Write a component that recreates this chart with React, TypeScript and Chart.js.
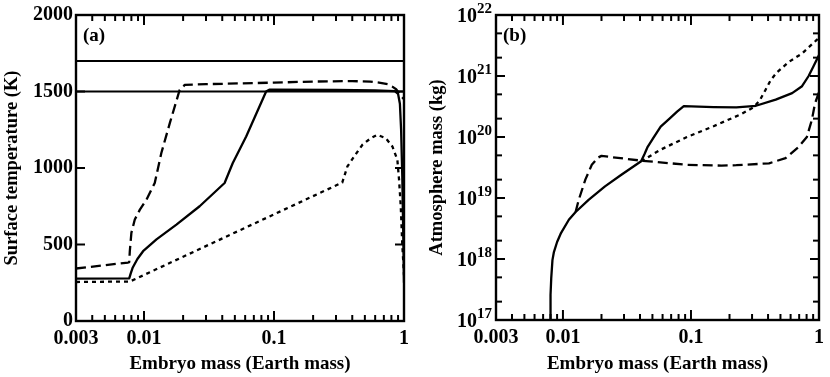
import React, { useEffect, useRef } from 'react';
import { Chart, registerables } from 'chart.js';
Chart.register(...registerables);

const FONT = '"Liberation Serif", "Times New Roman", serif';

// Axis ticks
const xTickValues = [0.003, 0.01, 0.1, 1];
const xTickLabels = ['0.003', '0.01', '0.1', '1'];
const xMajorTicks = [0.01, 0.1, 1];
const xMinorTicks = [0.004, 0.005, 0.006, 0.007, 0.008, 0.009, 0.02, 0.03, 0.04, 0.05, 0.06, 0.07, 0.08, 0.09, 0.2, 0.3, 0.4, 0.5, 0.6, 0.7, 0.8, 0.9];
const tempTicks = [0, 500, 1000, 1500, 2000];
const tempTickLabels = ['0', '500', '1000', '1500', '2000'];
const atmExponents = [17, 18, 19, 20, 21, 22];
const atmMinorMantissas = [2, 5];

// Panel (a): surface temperature (K)
const liquidusMass = [0.003, 1];
const liquidusK = [1700, 1700];
const solidusMass = [0.003, 1];
const solidusK = [1500, 1500];

const tSolidMass = [0.003, 0.0077, 0.0079, 0.0082, 0.0089, 0.00984, 0.01248, 0.01776, 0.0268, 0.0417, 0.0482, 0.0611, 0.087, 0.092, 0.3, 0.6, 0.85, 0.9, 0.93, 0.95, 0.97, 0.99, 1.0];
const tSolidK = [277, 279, 310, 350, 405, 456, 533, 630, 750, 902, 1033, 1206, 1500, 1512, 1510, 1507, 1502, 1485, 1420, 1250, 950, 500, 250];

const tDashMass = [0.003, 0.00755, 0.0077, 0.00778, 0.008, 0.0085, 0.0093, 0.01045, 0.0121, 0.0136, 0.0158, 0.0188, 0.0206, 0.03, 0.1, 0.2, 0.4, 0.55, 0.642, 0.75, 0.813, 0.87, 0.916, 0.95, 1.0];
const tDashK = [343, 382, 385, 456, 576, 663, 728, 793, 902, 1098, 1293, 1510, 1543, 1548, 1558, 1565, 1568, 1565, 1558, 1548, 1532, 1515, 1489, 1470, 1450];

const tDotMass = [0.003, 0.0078, 0.335, 0.367, 0.414, 0.479, 0.556, 0.624, 0.724, 0.814, 0.889, 0.916, 0.944, 0.97, 1.0];
const tDotK = [255, 258, 905, 1010, 1076, 1152, 1195, 1217, 1195, 1141, 1054, 924, 750, 500, 300];

// Panel (b): atmosphere mass (kg)
const aSolidMass = [0.00796, 0.00798, 0.00802, 0.0081, 0.00828, 0.0085, 0.0090, 0.0096, 0.01112, 0.01256, 0.01586, 0.0213, 0.0286, 0.0408, 0.0433, 0.0459, 0.051, 0.058, 0.068, 0.0779, 0.0879, 0.15, 0.2259, 0.3219, 0.459, 0.617, 0.737, 0.83, 0.9, 1.0];
const aSolidKg = [1e17, 1.6e17, 2.6e17, 4.8e17, 9.6e17, 1.3e18, 1.9e18, 2.6e18, 4.4e18, 5.9e18, 9.3e18, 1.55e19, 2.4e19, 4.0e19, 5.2e19, 6.9e19, 9.8e19, 1.48e20, 2.0e20, 2.6e20, 3.2e20, 3.1e20, 3.05e20, 3.25e20, 4.1e20, 5.25e20, 6.8e20, 1.0e21, 1.4e21, 2.2e21];

const aDashMass = [0.01256, 0.01328, 0.01496, 0.0168, 0.0188, 0.02, 0.0408, 0.093, 0.173, 0.226, 0.407, 0.548, 0.694, 0.804, 0.879, 0.93, 1.0];
const aDashKg = [5.9e18, 9.3e18, 2.0e19, 3.5e19, 4.6e19, 4.9e19, 4.1e19, 3.5e19, 3.4e19, 3.45e19, 3.7e19, 4.5e19, 6.9e19, 1.0e20, 1.9e20, 3.5e20, 5.5e20];

const aDotMass = [0.0408, 0.058, 0.093, 0.15, 0.25, 0.31, 0.345, 0.38, 0.42, 0.47, 0.581, 0.737, 0.96, 1.0];
const aDotKg = [4.0e19, 6.2e19, 1.0e20, 1.5e20, 2.4e20, 3.1e20, 4.0e20, 5.8e20, 8.6e20, 1.15e21, 1.7e21, 2.34e21, 3.9e21, 4.2e21];

const pts = (xs: number[], ys: number[]) => xs.map((x, i) => ({ x, y: ys[i] }));

const SOLID: number[] = [];
const DASH = [10, 5];
const DOT = [4, 4];

function ds(xs: number[], ys: number[], dash: number[], width = 2.3) {
  return {
    data: pts(xs, ys),
    showLine: true,
    borderColor: '#000',
    backgroundColor: '#000',
    borderWidth: width,
    borderDash: dash,
    borderJoinStyle: 'round',
    pointRadius: 0,
    tension: 0,
    fill: false,
  };
}

type FrameCfg = {
  panel: string;
  yMajor: number[];
  yMinor: number[];
  powerLabels?: number[];
};

function makeFrameTicks(cfg: FrameCfg) {
  return {
    id: 'frameTicks',
    afterDraw(chart: any) {
      const ctx = chart.ctx;
      const a = chart.chartArea;
      const xs = chart.scales.x;
      const ys = chart.scales.y;
      ctx.save();
      ctx.strokeStyle = '#000';
      ctx.lineCap = 'butt';
      ctx.setLineDash([]);
      const line = (x1: number, y1: number, x2: number, y2: number) => {
        ctx.beginPath();
        ctx.moveTo(x1, y1);
        ctx.lineTo(x2, y2);
        ctx.stroke();
      };
      ctx.lineWidth = 2;
      xMajorTicks.forEach((v) => {
        const p = xs.getPixelForValue(v);
        line(p, a.bottom, p, a.bottom - 10);
        line(p, a.top, p, a.top + 10);
      });
      xMinorTicks.forEach((v) => {
        const p = xs.getPixelForValue(v);
        line(p, a.bottom, p, a.bottom - 6);
        line(p, a.top, p, a.top + 6);
      });
      cfg.yMajor.forEach((v) => {
        const p = ys.getPixelForValue(v);
        line(a.left, p, a.left + 9, p);
        line(a.right, p, a.right - 9, p);
      });
      cfg.yMinor.forEach((v) => {
        const p = ys.getPixelForValue(v);
        line(a.left, p, a.left + 6, p);
        line(a.right, p, a.right - 6, p);
      });
      ctx.lineWidth = 2.4;
      ctx.strokeRect(a.left, a.top, a.right - a.left, a.bottom - a.top);

      ctx.fillStyle = '#000';
      ctx.font = `bold 19px ${FONT}`;
      ctx.textAlign = 'left';
      ctx.textBaseline = 'middle';
      ctx.fillText(cfg.panel, a.left + 7, a.top + 21);

      if (cfg.powerLabels) {
        cfg.powerLabels.forEach((n) => {
          const p = ys.getPixelForValue(Math.pow(10, n));
          const exp = String(n);
          ctx.font = `bold 15px ${FONT}`;
          const ew = ctx.measureText(exp).width;
          const xr = a.left - 4;
          ctx.textAlign = 'right';
          ctx.fillText(exp, xr, p - 6);
          ctx.font = `bold 20px ${FONT}`;
          ctx.fillText('10', xr - ew, p + 2);
        });
      }
      ctx.restore();
    },
  };
}

function xScale(titlePad: number, h: number) {
  return {
    type: 'logarithmic',
    min: 0.003,
    max: 1,
    afterBuildTicks: (s: any) => {
      s.ticks = xTickValues.map((v) => ({ value: v }));
    },
    afterFit: (s: any) => {
      s.height = h;
    },
    grid: { display: false, drawTicks: false },
    border: { display: false },
    ticks: {
      padding: 6,
      color: '#000',
      font: { family: FONT, size: 20, weight: 'bold' },
      maxRotation: 0,
      autoSkip: false,
      callback: (v: any) => {
        const i = xTickValues.findIndex((t) => Math.abs(t - v) < 1e-9);
        return i >= 0 ? xTickLabels[i] : '';
      },
    },
    title: {
      display: true,
      text: 'Embryo mass (Earth mass)',
      color: '#000',
      font: { family: FONT, size: 19, weight: 'bold' },
      padding: { top: 0, bottom: titlePad },
    },
  };
}

function ChartPanel({ config }: { config: any }) {
  const ref = useRef<HTMLCanvasElement>(null);
  useEffect(() => {
    if (!ref.current) return;
    const c = new Chart(ref.current, config);
    return () => c.destroy();
  }, []);
  return <canvas ref={ref} width={415} height={377} style={{ width: 415, height: 377, display: 'block' }} />;
}

const tempConfig = {
  type: 'scatter',
  data: {
    datasets: [
      ds(liquidusMass, liquidusK, SOLID, 2),
      ds(solidusMass, solidusK, SOLID, 2),
      ds(tSolidMass, tSolidK, SOLID),
      ds(tDashMass, tDashK, DASH),
      ds(tDotMass, tDotK, DOT),
    ],
  },
  plugins: [makeFrameTicks({ panel: '(a)', yMajor: tempTicks, yMinor: [] })],
  options: {
    responsive: false,
    maintainAspectRatio: false,
    animation: false,
    devicePixelRatio: 1,
    layout: { padding: { left: 0, top: 15, right: 10, bottom: 0 } },
    plugins: {
      legend: { display: false },
      tooltip: { enabled: false },
    },
    scales: {
      x: xScale(2, 56),
      y: {
        type: 'linear',
        min: 0,
        max: 2000,
        afterBuildTicks: (s: any) => {
          s.ticks = tempTicks.map((v) => ({ value: v }));
        },
        afterFit: (s: any) => {
          s.width = 76;
        },
        grid: { display: false, drawTicks: false },
        border: { display: false },
        ticks: {
          padding: 3,
          color: '#000',
          font: { family: FONT, size: 20, weight: 'bold' },
          callback: (v: any) => {
            const i = tempTicks.indexOf(Number(v));
            return i >= 0 ? tempTickLabels[i] : '';
          },
        },
        title: {
          display: true,
          text: 'Surface temperature (K)',
          color: '#000',
          font: { family: FONT, size: 18.5, weight: 'bold' },
          padding: { top: 1, bottom: 0 },
        },
      },
    },
  },
};

const atmConfig = {
  type: 'scatter',
  data: {
    datasets: [
      ds(aSolidMass, aSolidKg, SOLID),
      ds(aDashMass, aDashKg, DASH),
      ds(aDotMass, aDotKg, DOT),
    ],
  },
  plugins: [
    makeFrameTicks({
      panel: '(b)',
      yMajor: atmExponents.map((n) => Math.pow(10, n)),
      yMinor: atmExponents.slice(0, -1).flatMap((n) => atmMinorMantissas.map((k) => k * Math.pow(10, n))),
      powerLabels: atmExponents,
    }),
  ],
  options: {
    responsive: false,
    maintainAspectRatio: false,
    animation: false,
    devicePixelRatio: 1,
    layout: { padding: { left: 0, top: 15, right: 6, bottom: 0 } },
    plugins: {
      legend: { display: false },
      tooltip: { enabled: false },
    },
    scales: {
      x: xScale(2, 57),
      y: {
        type: 'logarithmic',
        min: 1e17,
        max: 1e22,
        afterFit: (s: any) => {
          s.width = 81;
        },
        grid: { display: false, drawTicks: false },
        border: { display: false },
        ticks: { display: false },
        title: {
          display: true,
          text: 'Atmosphere mass (kg)',
          color: '#000',
          font: { family: FONT, size: 18.5, weight: 'bold' },
          padding: { top: 11, bottom: 0 },
        },
      },
    },
  },
};

export default function App() {
  return (
    <div style={{ position: 'fixed', left: 0, top: 0, width: 830, height: 377, display: 'flex', background: '#fff' }}>
      <ChartPanel config={tempConfig} />
      <ChartPanel config={atmConfig} />
    </div>
  );
}
